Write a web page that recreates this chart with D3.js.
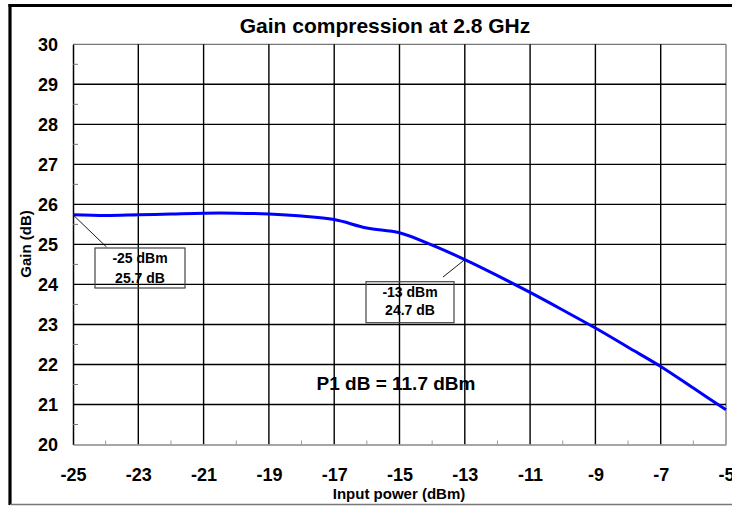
<!DOCTYPE html>
<html><head><meta charset="utf-8">
<script src="https://cdn.jsdelivr.net/npm/d3@7"></script>
<style>html,body{margin:0;padding:0;background:#fff;}svg{display:block;}</style>
</head><body>
<svg id="c" width="732" height="506"></svg>
<script>
const inputPower = [-25,-24,-23,-22,-21,-20,-19,-18,-17,-16,-15,-14,-13,-12,-11,-10,-9,-8,-7,-6,-5];
const gain = [25.74,25.72,25.74,25.76,25.78,25.78,25.76,25.71,25.62,25.41,25.29,24.98,24.62,24.22,23.80,23.36,22.91,22.43,21.95,21.41,20.87];
const xTicks = [-25,-23,-21,-19,-17,-15,-13,-11,-9,-7,-5];
const yTicks = [20,21,22,23,24,25,26,27,28,29,30];
const titleText = "Gain compression at 2.8 GHz";
const xTitle = "Input power (dBm)";
const yTitle = "Gain (dB)";
const p1Text = "P1 dB = 11.7 dBm";
const annoPoints = [-25, -13];
const annoGain = [25.74, 24.62];
const annoLines = [["-25 dBm","25.7 dB"],["-13 dBm","24.7 dB"]];

const svg = d3.select("#c");
const F = "'Liberation Sans', Arial, Helvetica, sans-serif";
const x = d3.scaleLinear().domain([-25,-5]).range([73,726]);
const y = d3.scaleLinear().domain([20,30]).range([444.5,44.3]);

// outer frame
svg.append("line").attr("x1",8.5).attr("x2",740).attr("y1",5.5).attr("y2",5.5).attr("stroke","#000").attr("stroke-width",3);
svg.append("line").attr("x1",10).attr("x2",10).attr("y1",4).attr("y2",505).attr("stroke","#000").attr("stroke-width",3.2);
svg.append("line").attr("x1",10).attr("x2",740).attr("y1",504.5).attr("y2",504.5).attr("stroke","#777").attr("stroke-width",1.3);

// plot border (top/right gray)
svg.append("line").attr("x1",x(-25)).attr("x2",x(-5)).attr("y1",y(30)).attr("y2",y(30)).attr("stroke","#777").attr("stroke-width",1.2);
svg.append("line").attr("x1",x(-5)).attr("x2",x(-5)).attr("y1",y(30)).attr("y2",y(20)).attr("stroke","#888").attr("stroke-width",1.5);

// grid
const g = svg.append("g");
g.selectAll(".hg").data(yTicks.filter(v=>v>20&&v<30)).join("line")
  .attr("x1",x(-25)).attr("x2",x(-5)).attr("y1",d=>y(d)).attr("y2",d=>y(d))
  .attr("stroke","#000").attr("stroke-width",1.4);
g.selectAll(".vg").data(xTicks.filter(v=>v>-25&&v<-5)).join("line")
  .attr("x1",d=>x(d)).attr("x2",d=>x(d)).attr("y1",y(30)).attr("y2",y(20))
  .attr("stroke","#000").attr("stroke-width",1.4);

// axes
const fmt = d => String(d);
const yAxis = d3.axisLeft(y).tickValues(yTicks).tickSize(0).tickPadding(15).tickFormat(fmt);
const ya = svg.append("g").attr("transform",`translate(${x(-25)},0)`).call(yAxis);
ya.select(".domain").attr("stroke","#000").attr("stroke-width",1.5);
ya.selectAll("text").attr("font-family",F).attr("font-weight","bold").attr("font-size","18px").attr("fill","#000");

const xAxis = d3.axisBottom(x).tickValues(xTicks).tickSize(0).tickPadding(24).tickFormat(fmt);
const xa = svg.append("g").attr("transform",`translate(0,${y(20)})`).call(xAxis);
xa.select(".domain").attr("stroke","#888").attr("stroke-width",1.5);
xa.selectAll("text").attr("font-family",F).attr("font-weight","bold").attr("font-size","18px").attr("fill","#000");

// minor ticks
const yMinor = d3.range(20.5,30,1);
svg.selectAll(".ym").data(yMinor).join("line")
  .attr("x1",x(-25)).attr("x2",x(-25)+5).attr("y1",d=>y(d)).attr("y2",d=>y(d))
  .attr("stroke","#777").attr("stroke-width",1);
const xMinor = d3.range(-24,-5,2);
svg.selectAll(".xm").data(xMinor).join("line")
  .attr("x1",d=>x(d)).attr("x2",d=>x(d)).attr("y1",y(20)).attr("y2",y(20)-4)
  .attr("stroke","#999").attr("stroke-width",1);

// curve
const line = d3.line().x((d,i)=>x(inputPower[i])).y(d=>y(d)).curve(d3.curveCatmullRom.alpha(0.5));
svg.append("path").datum(gain).attr("d",line).attr("fill","none").attr("stroke","#0000ff").attr("stroke-width",3);

// annotations
const boxes = [{x0:95,y0:248,x1:185,y1:288,lx:106.5,ly:247,b1:262.5,b2:282.5},
               {x0:366,y0:281.7,x1:454,y1:322.7,lx:443,ly:277,b1:296.8,b2:315.3}];
boxes.forEach((b,i)=>{
  svg.append("line").attr("x1",x(annoPoints[i])).attr("y1",y(annoGain[i])).attr("x2",b.lx).attr("y2",b.ly)
    .attr("stroke","#000").attr("stroke-width",0.9);
  svg.append("rect").attr("x",b.x0).attr("y",b.y0).attr("width",b.x1-b.x0).attr("height",b.y1-b.y0)
    .attr("fill","none").attr("stroke","#444").attr("stroke-width",1.2);
  const cx=(b.x0+b.x1)/2;
  [b.b1,b.b2].forEach((bl,j)=>{
    svg.append("text").attr("x",cx).attr("y",bl).attr("text-anchor","middle")
      .attr("font-family",F).attr("font-weight","bold").attr("font-size","14px").text(annoLines[i][j]);
  });
});

// texts
svg.append("text").attr("x",385).attr("y",33).attr("text-anchor","middle").attr("font-family",F)
  .attr("font-weight","bold").attr("font-size","21px").text(titleText);
svg.append("text").attr("x",396).attr("y",390).attr("text-anchor","middle").attr("font-family",F)
  .attr("font-weight","bold").attr("font-size","19px").text(p1Text);
svg.append("text").attr("x",399).attr("y",499).attr("text-anchor","middle").attr("font-family",F)
  .attr("font-weight","bold").attr("font-size","15px").text(xTitle);
svg.append("text").attr("transform","translate(31,244) rotate(-90)").attr("text-anchor","middle").attr("font-family",F)
  .attr("font-weight","bold").attr("font-size","15px").text(yTitle);
</script>
</body></html>
